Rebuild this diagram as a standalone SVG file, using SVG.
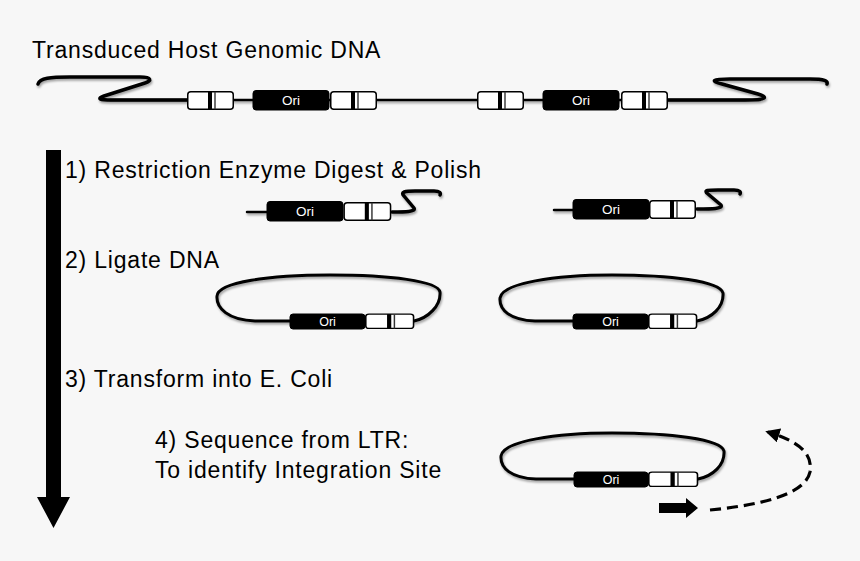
<svg xmlns="http://www.w3.org/2000/svg" xmlns:xlink="http://www.w3.org/1999/xlink" width="860" height="561" viewBox="0 0 860 561">
<style>
.lbl{font-family:"Liberation Sans",Arial,Helvetica,sans-serif;font-size:23px;letter-spacing:0.8px;fill:#000}
.ori{fill:#000;stroke:#000;stroke-width:1}
.orit{font-family:"Liberation Sans",Arial,Helvetica,sans-serif;font-size:13.5px;fill:#fff;text-anchor:middle}
.dna{fill:none;stroke:#000;stroke-width:2.5;stroke-linecap:round;stroke-linejoin:round}
.sq{fill:none;stroke:#000;stroke-width:3.5;stroke-linecap:round;stroke-linejoin:round}
.loop{fill:none;stroke:#000;stroke-width:3;stroke-linecap:round}
</style>
<defs>
<filter id="sh" x="-10%" y="-30%" width="120%" height="160%">
<feDropShadow dx="1" dy="2" stdDeviation="1.3" flood-color="#000" flood-opacity="0.35"/>
</filter>
<g id="ltr">
<rect x="0.75" y="0.75" width="45.5" height="17.5" rx="3" fill="#fff" stroke="#000" stroke-width="1.5"/>
<rect x="21" y="0.75" width="4" height="17.5" fill="#000"/>
<rect x="27.3" y="0.75" width="1.4" height="17.5" fill="#333"/>
</g>
<marker id="ah" viewBox="0 0 10 10" refX="8" refY="5" markerWidth="4.5" markerHeight="4.5" orient="auto">
<path d="M0,0 L10,5 L0,10 z" fill="#000"/>
</marker>
</defs>
<rect width="860" height="561" fill="#f7f7f7"/>

<g id="labels">
<text class="lbl" x="32" y="58">Transduced Host Genomic DNA</text>
<text class="lbl" x="65" y="178">1) Restriction Enzyme Digest &amp; Polish</text>
<text class="lbl" x="65" y="268">2) Ligate DNA</text>
<text class="lbl" x="65" y="387">3) Transform into E. Coli</text>
<text class="lbl" x="155" y="448">4) Sequence from LTR:</text>
<text class="lbl" x="155" y="478">To identify Integration Site</text>
</g>

<g id="connectors">
<path id="step-arrow" d="M46,150 L61,150 L61,497 L70,497 L53.5,528 L37,497 L46,497 z" fill="#000"/>
<g filter="url(#sh)">
<path class="dna" d="M110,100 L760,100"/>
<path class="sq" d="M38,84 C40,78 50,77 70,77 L140,77 C152,77 152,81 145,83 L104,96 C96,99 100,100 112,100 L187,100"/>
<path class="sq" d="M668,100 L745,100 C768,100 768,97 758,94 L722,84 C710,81 712,79 730,79 L810,79 C825,79 828,81 827,84"/>
<path class="dna" d="M247,212 L267,212"/>
<path class="sq" d="M392,212 C405,212 416,212 414,208 L404,196 C400,192 405,191 415,191 L434,191 C440,191 441,193 440,195"/>
<path class="dna" d="M554,210 L573,210"/>
<path class="sq" d="M697,209 C712,209 723,209 721,205 L708,194 C703,190 708,190 718,190 L734,190 C740,190 741,192 740,194"/>
<path class="loop" d="M290,321 L255,321 C228,320 216,308 217,296 C218,282 270,275 330,275 C390,275 438,281 440,292 C441,306 428,318 414,321"/>
<path class="loop" d="M573,321 L535,321 C510,320 499,310 500,298 C502,283 555,275 612,275 C670,275 720,281 723,293 C724,307 712,318 697,321"/>
<path class="loop" d="M574,479 L536,479 C511,478 500,468 501,456 C503,441 556,433 612,433 C670,433 721,439 724,451 C725,465 713,476 698,479"/>
</g>
<path id="seq-primer" d="M659,503 L686,503 L686,498 L698,508 L686,518 L686,513 L659,513 z" fill="#000"/>
<path id="seq-read" d="M710,510 C760,505 805,495 810,472 C813,452 797,441 768,432" fill="none" stroke="#000" stroke-width="3.2" stroke-dasharray="11,6" marker-end="url(#ah)"/>
</g>

<g id="genome-ltr1"><use xlink:href="#ltr" x="187" y="91"/></g>
<g id="genome-ori1"><rect class="ori" x="253" y="90.5" width="76" height="19.5" rx="3"/><text class="orit" x="291" y="105">Ori</text></g>
<g id="genome-ltr2"><use xlink:href="#ltr" x="330" y="91"/></g>
<g id="genome-ltr3"><use xlink:href="#ltr" x="477" y="91"/></g>
<g id="genome-ori2"><rect class="ori" x="543" y="90.5" width="76" height="19.5" rx="3"/><text class="orit" x="581" y="105">Ori</text></g>
<g id="genome-ltr4"><use xlink:href="#ltr" x="621" y="91"/></g>

<g id="frag1-ori"><rect class="ori" x="267" y="201.5" width="76" height="19.5" rx="3"/><text class="orit" x="305" y="216">Ori</text></g>
<g id="frag1-ltr"><use xlink:href="#ltr" x="344" y="202" transform="translate(-7.5 0) scale(1.02 1)"/></g>
<g id="frag2-ori"><rect class="ori" x="573" y="199.5" width="76" height="19.5" rx="3"/><text class="orit" x="611" y="214">Ori</text></g>
<g id="frag2-ltr"><use xlink:href="#ltr" x="649" y="200"/></g>

<g id="circle1-ori"><rect class="ori" x="290" y="314" width="75" height="15" rx="3"/><text class="orit" x="327.5" y="326" style="font-size:12.5px">Ori</text></g>
<g id="circle1-ltr"><use xlink:href="#ltr" transform="translate(365 313.5) scale(1.05 0.82)"/></g>
<g id="circle2-ori"><rect class="ori" x="573" y="314" width="75" height="15" rx="3"/><text class="orit" x="610.5" y="326" style="font-size:12.5px">Ori</text></g>
<g id="circle2-ltr"><use xlink:href="#ltr" transform="translate(648 313.5) scale(1.05 0.82)"/></g>
<g id="circle3-ori"><rect class="ori" x="574" y="472" width="74" height="15" rx="3"/><text class="orit" x="611" y="484" style="font-size:12.5px">Ori</text></g>
<g id="circle3-ltr"><use xlink:href="#ltr" transform="translate(648 471.5) scale(1.07 0.82)"/></g>
</svg>
